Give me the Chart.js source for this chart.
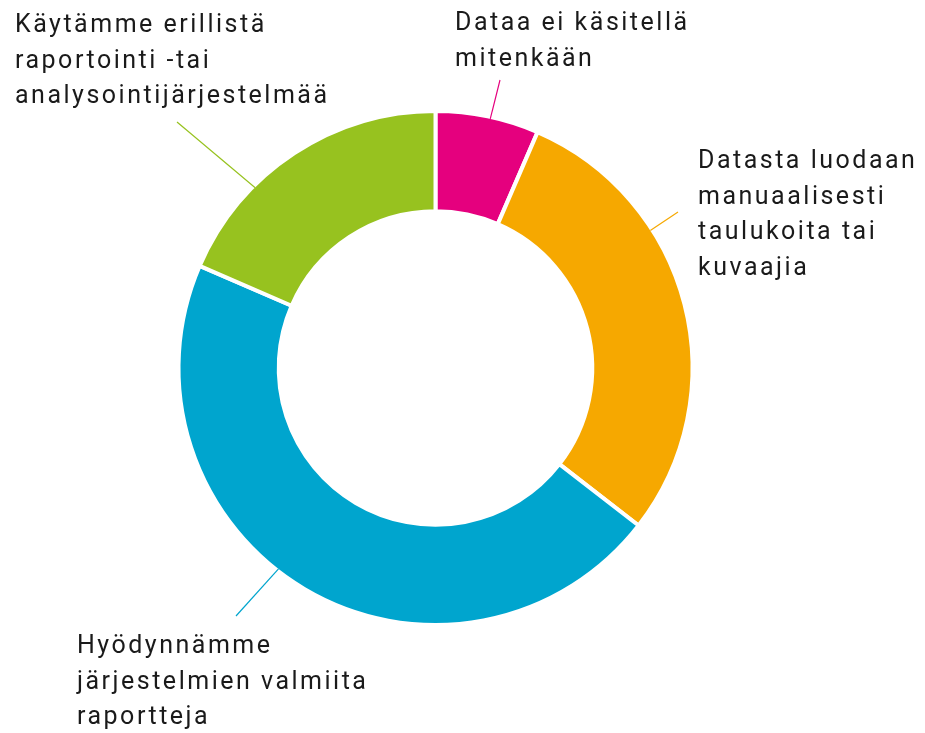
<!DOCTYPE html>
<html>
<head>
<meta charset="utf-8">
<script src="https://cdn.jsdelivr.net/npm/chart.js@4"></script>
<style>
  html, body { margin: 0; padding: 0; background: #fff; }
  #wrap { width: 925px; height: 733px; }
</style>
</head>
<body>
<div id="wrap"><canvas id="myChart" width="925" height="733"></canvas></div>
<script>
var categories = [
    "Dataa ei käsitellä mitenkään",
    "Datasta luodaan manuaalisesti taulukoita tai kuvaajia",
    "Hyödynnämme järjestelmien valmiita raportteja",
    "Käytämme erillistä raportointi -tai analysointijärjestelmää"
];
var shares = [6.5, 29, 46, 18.5];
var colors = ["#E5007E", "#F6A800", "#00A5CE", "#97C21F"];

// wrapped label lines as in the picture
var labelLines = [
    ["Dataa ei käsitellä", "mitenkään"],
    ["Datasta luodaan", "manuaalisesti", "taulukoita tai", "kuvaajia"],
    ["Hyödynnämme", "järjestelmien valmiita", "raportteja"],
    ["Käytämme erillistä", "raportointi -tai", "analysointijärjestelmää"]
];

// label placement: text x, first baseline, leader angle (deg from top), leader end
var labelPos = [
    { x: 455, y: 30, angle: 12.4, ex: 500, ey: 80 },
    { x: 698, y: 168, angle: 57.4, ex: 678, ey: 212 },
    { x: 77, y: 653, angle: 218, ex: 236, ey: 616 },
    { x: 15, y: 32, angle: 315, ex: 177, ey: 122 }
];

var outsideLabels = {
    id: "outsideLabels",
    afterDraw: function (chart) {
        var ctx = chart.ctx;
        var arc = chart.getDatasetMeta(0).data[0];
        var cx = arc.x, cy = arc.y, r = arc.outerRadius;
        ctx.save();
        labelPos.forEach(function (p, i) {
            var a = p.angle * Math.PI / 180;
            var sx = cx + Math.sin(a) * (r - 2);
            var sy = cy - Math.cos(a) * (r - 2);
            ctx.strokeStyle = colors[i];
            ctx.lineWidth = 1.2;
            ctx.beginPath();
            ctx.moveTo(sx, sy);
            ctx.lineTo(p.ex, p.ey);
            ctx.stroke();

            ctx.fillStyle = "#1a1a1a";
            ctx.font = "25px Roboto";
            ctx.letterSpacing = "2.5px";
            ctx.textAlign = "left";
            ctx.textBaseline = "alphabetic";
            labelLines[i].forEach(function (line, j) {
                ctx.fillText(line, p.x, p.y + j * 35.5);
            });
        });
        ctx.restore();
    }
};

var ctx = document.getElementById("myChart").getContext("2d");
var myChart = new Chart(ctx, {
    type: "doughnut",
    data: {
        labels: categories,
        datasets: [{
            data: shares,
            backgroundColor: colors,
            borderColor: "#ffffff",
            borderWidth: 4,
            hoverOffset: 0
        }]
    },
    options: {
        responsive: false,
        animation: false,
        cutout: "61%",
        layout: { padding: { left: 176, right: 230, top: 109, bottom: 106 } },
        plugins: {
            legend: { display: false },
            tooltip: { enabled: false }
        }
    },
    plugins: [outsideLabels]
});
</script>
</body>
</html>
